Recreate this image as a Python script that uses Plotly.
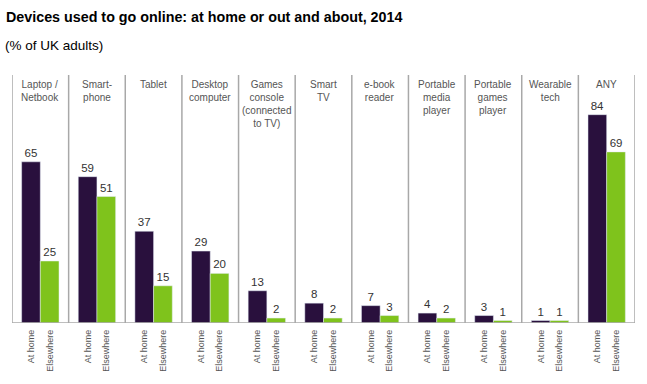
import plotly.graph_objects as go

categories = ["Laptop /<br>Netbook", "Smart-<br>phone", "Tablet", "Desktop<br>computer",
              "Games<br>console<br>(connected<br>to TV)", "Smart<br>TV", "e-book<br>reader",
              "Portable<br>media<br>player", "Portable<br>games<br>player", "Wearable<br>tech", "ANY"]
at_home = [65, 59, 37, 29, 13, 8, 7, 4, 3, 1, 84]
elsewhere = [25, 51, 15, 20, 2, 2, 3, 2, 1, 1, 69]
series_names = ["At home", "Elsewhere"]

n = len(categories)
idx = list(range(n))
W = 0.33
DARK = "#29103d"
GREEN = "#7fc31c"

fig = go.Figure()
fig.add_trace(go.Bar(x=idx, y=at_home, width=W, offset=-W, marker_color=DARK,
                     text=at_home, textposition="outside", cliponaxis=False,
                     textfont=dict(size=11.5, color="#333333"), name=series_names[0]))
fig.add_trace(go.Bar(x=idx, y=elsewhere, width=W, offset=0, marker_color=GREEN,
                     text=elsewhere, textposition="outside", cliponaxis=False,
                     textfont=dict(size=11.5, color="#333333"), name=series_names[1]))

tickvals = []
ticktext = []
for i in idx:
    tickvals += [i - W / 2, i + W / 2]
    ticktext += series_names

for i, c in enumerate(categories):
    fig.add_annotation(x=i, y=99, xref="x", yref="y", text=c, showarrow=False,
                       yanchor="top", xanchor="center",
                       font=dict(size=10, color="#555555", family="Liberation Sans, Arial"))
for i in range(n + 1):
    fig.add_shape(type="line", x0=i - 0.5, x1=i - 0.5, y0=0, y1=100, xref="x", yref="y",
                  line=dict(color="#a8a8a8", width=1.5))
fig.add_shape(type="line", x0=-0.5, x1=n - 0.5, y0=0, y1=0, xref="x", yref="y",
              line=dict(color="#a8a8a8", width=1.5))

fig.update_layout(
    width=647, height=384,
    margin=dict(l=12, r=12, t=75, b=61),
    paper_bgcolor="white", plot_bgcolor="white",
    showlegend=False,
    font=dict(family="Liberation Sans, Arial", color="#333333"),
    xaxis=dict(range=[-0.5, n - 0.5], tickvals=tickvals, ticktext=ticktext, tickangle=-90,
               showgrid=False, zeroline=False, showline=False, ticks="",
               ticklabelstandoff=4,
               tickfont=dict(size=9, color="#555555"), automargin=False),
    yaxis=dict(range=[0, 100], visible=False),
)
fig.add_annotation(x=0, y=1, xref="paper", yref="paper", xshift=-8, yshift=68,
                   text="<b>Devices used to go online: at home or out and about, 2014</b>",
                   showarrow=False, xanchor="left", yanchor="top",
                   font=dict(size=14.3, color="#000000", family="Liberation Sans, Arial"))
fig.add_annotation(x=0, y=1, xref="paper", yref="paper", xshift=-9, yshift=39,
                   text="(% of UK adults)",
                   showarrow=False, xanchor="left", yanchor="top",
                   font=dict(size=13.5, color="#000000", family="Liberation Sans, Arial"))

fig.write_html("out.html", config={"displayModeBar": False},
               post_script="document.body.style.margin='0';")
